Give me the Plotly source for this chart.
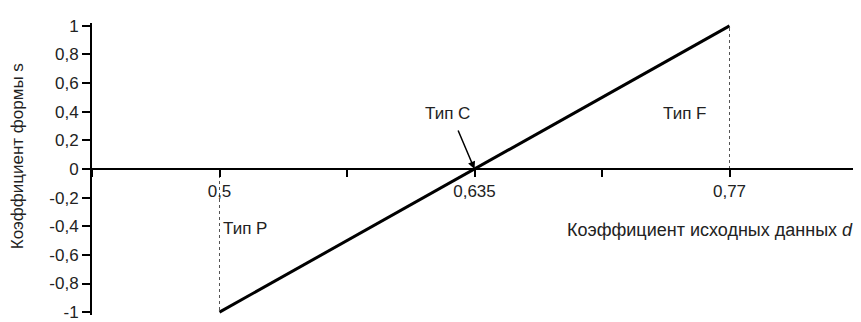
import plotly.graph_objects as go

# данные
d_values = [0.5, 0.77]
s_values = [-1, 1]
x_tickvals = [0.4325, 0.5, 0.5675, 0.635, 0.7025, 0.77, 0.8375]
x_ticktext = ["", "0,5", "", "0,635", "", "0,77", ""]
y_tickvals = [-1, -0.8, -0.6, -0.4, -0.2, 0, 0.2, 0.4, 0.6, 0.8, 1]
y_ticktext = ["-1", "-0,8", "-0,6", "-0,4", "-0,2", "0", "0,2", "0,4", "0,6", "0,8", "1"]
guide_p = ([0.5, 0.5], [0, -1])
guide_f = ([0.77, 0.77], [0, 1])

FONT = "Arial, Liberation Sans, sans-serif"

fig = go.Figure()
for gx, gy in (guide_p, guide_f):
    fig.add_trace(go.Scatter(x=gx, y=gy, mode="lines",
                             line=dict(color="#555", width=1, dash="dot"),
                             showlegend=False, hoverinfo="skip"))
fig.add_trace(go.Scatter(x=d_values, y=s_values, mode="lines",
                         line=dict(color="black", width=3), showlegend=False))

# страница имеет отступ 8px, поэтому размеры уменьшены
fig.update_layout(
    width=853, height=314,
    margin=dict(l=84, r=4, t=15, b=0),
    plot_bgcolor="white", paper_bgcolor="white",
    font=dict(family=FONT, size=17, color="#222"),
    xaxis=dict(range=[0.4325, 0.8375], tickvals=x_tickvals, ticktext=x_ticktext,
               showgrid=False, zeroline=False, showline=True, linecolor="black",
               linewidth=2, ticks="outside", ticklen=7, tickwidth=1.5,
               tickcolor="black", anchor="free", position=0.5),
    yaxis=dict(range=[-1.02, 1.02], tickvals=y_tickvals, ticktext=y_ticktext,
               showgrid=False, zeroline=False, showline=True, linecolor="black",
               linewidth=2, ticks="outside", ticklen=8, tickwidth=1.5,
               tickcolor="black", ticklabeloverflow="allow"),
)

fig.add_annotation(xref="paper", yref="paper", x=-0.097, y=0.543, textangle=-90,
                   xanchor="center", yanchor="middle",
                   text="Коэффициент формы s", showarrow=False)
fig.add_annotation(x=0.635, y=0, ax=-17, ay=-40, text="", showarrow=True,
                   arrowhead=2, arrowsize=1, arrowwidth=1.5, arrowcolor="black")
fig.add_annotation(x=0.6207, y=0.39, text="Тип С", showarrow=False)
fig.add_annotation(x=0.746, y=0.39, text="Тип F", showarrow=False)
fig.add_annotation(x=0.501, y=-0.417, text="Тип P", showarrow=False, xanchor="left")
fig.add_annotation(x=0.8365, y=-0.428, text="Коэффициент исходных данных <i>d</i>",
                   showarrow=False, xanchor="right", font=dict(size=18))

fig.write_html("out.html")
